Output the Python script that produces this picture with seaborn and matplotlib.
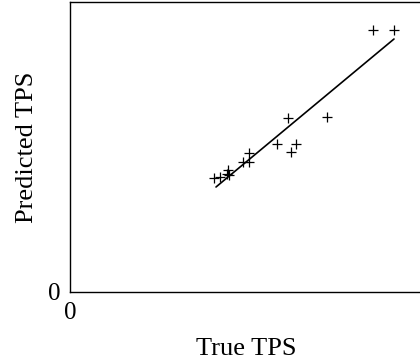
import matplotlib
matplotlib.use("Agg")
import matplotlib.pyplot as plt
import seaborn as sns
import pandas as pd

true_tps = [144, 150, 157, 159, 158, 173, 179, 179, 207, 221, 226, 218, 257, 303, 324]
pred_tps = [114, 115, 118, 117, 122, 130, 130, 139, 148, 140, 148, 174, 175, 262, 262]
fit_x = [146, 324]
fit_y = [105, 253]

sns.set_theme(style="white")
plt.rcParams['font.family'] = ['Liberation Serif', 'DejaVu Serif']

fig = plt.figure(figsize=(4.2, 3.6), dpi=100)
ax = fig.add_axes([70/420, 68/360, 352/420, 290/360])

df = pd.DataFrame({"x": true_tps, "y": pred_tps})
sns.scatterplot(data=df, x="x", y="y", marker="+", s=60, color="black",
                linewidth=0.9, ax=ax)
sns.lineplot(x=fit_x, y=fit_y, color="black", linewidth=1.2, ax=ax)

ax.set_xlim(0, 352)
ax.set_ylim(0, 290)
ax.set_xticks([0])
ax.set_yticks([0])
ax.set_xticklabels(["0"])
ax.set_yticklabels(["0"])
ax.tick_params(length=0, labelsize=18, pad=7, colors="black")
ax.set_xlabel("True TPS", fontsize=19, labelpad=10, color="black")
ax.set_ylabel("Predicted TPS", fontsize=19, labelpad=7, color="black")
for s in ["left", "bottom", "top"]:
    ax.spines[s].set_color("black")
    ax.spines[s].set_linewidth(1.0)
ax.spines["right"].set_visible(False)

fig.savefig("out.png", dpi=100)
